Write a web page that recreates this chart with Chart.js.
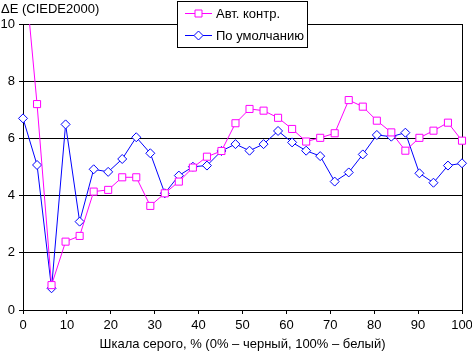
<!DOCTYPE html>
<html>
<head>
<meta charset="utf-8">
<script src="https://cdn.jsdelivr.net/npm/chart.js@4/dist/chart.umd.min.js"></script>
<style>
html,body{margin:0;padding:0;background:#fff;}
#wrap{width:472px;height:353px;position:relative;}
</style>
</head>
<body>
<div id="wrap"><canvas id="c" width="472" height="353"></canvas></div>
<script>
const xValues = [0, 3.2, 6.5, 9.7, 12.9, 16.1, 19.4, 22.6, 25.8, 29.0, 32.3, 35.5, 38.7, 41.9, 45.2, 48.4, 51.6, 54.8, 58.1, 61.3, 64.5, 67.7, 71.0, 74.2, 77.4, 80.6, 83.9, 87.1, 90.3, 93.5, 96.8, 100];
const autoContr = [12.5, 7.20, 0.87, 2.39, 2.59, 4.14, 4.20, 4.64, 4.64, 3.64, 4.08, 4.49, 4.98, 5.36, 5.56, 6.53, 7.03, 6.97, 6.72, 6.33, 5.89, 6.02, 6.18, 7.34, 7.11, 6.62, 6.21, 5.57, 6.02, 6.27, 6.55, 5.92];
const byDefault = [6.70, 5.07, 0.76, 6.49, 3.09, 4.92, 4.83, 5.28, 6.04, 5.48, 4.08, 4.70, 5.01, 5.05, 5.56, 5.80, 5.57, 5.80, 6.26, 5.86, 5.57, 5.38, 4.49, 4.81, 5.44, 6.12, 6.06, 6.20, 4.78, 4.45, 5.05, 5.13];
const seriesNames = ["Авт. контр.", "По умолчанию"];
const yTitle = "ΔE (CIEDE2000)";
const xTitle = "Шкала серого, % (0% – черный, 100% – белый)";

const FONT = "'Liberation Sans', Arial, sans-serif";
const toPts = arr => arr.map((v, i) => ({x: xValues[i], y: v}));

const extras = {
  id: 'extras',
  beforeDatasetsDraw(chart) {
    const {ctx, chartArea: a} = chart;
    ctx.save();
    ctx.strokeStyle = '#000';
    ctx.lineWidth = 1;
    ctx.beginPath();
    ctx.moveTo(Math.round(a.right) + 0.5, a.top);
    ctx.lineTo(Math.round(a.right) + 0.5, a.bottom);
    ctx.stroke();
    ctx.restore();
  },
  afterDraw(chart) {
    const ctx = chart.ctx;
    ctx.save();
    ctx.fillStyle = '#000';
    ctx.font = '13px ' + FONT;
    ctx.textBaseline = 'middle';
    ctx.textAlign = 'left';
    ctx.fillText(yTitle, 1, 9);
    const bx = 177.5, by = 1.5, bw = 130, bh = 46;
    ctx.fillStyle = '#fff';
    ctx.fillRect(bx, by, bw, bh);
    ctx.strokeStyle = '#000';
    ctx.lineWidth = 1;
    ctx.strokeRect(bx, by, bw, bh);
    const rows = [13.5, 35.5];
    chart.data.datasets.forEach((ds, i) => {
      const y = rows[i];
      ctx.strokeStyle = ds.borderColor;
      ctx.beginPath();
      ctx.moveTo(185, y);
      ctx.lineTo(212, y);
      ctx.stroke();
      ctx.fillStyle = '#fff';
      ctx.beginPath();
      if (ds.pointStyle === 'rect') {
        ctx.rect(195, y - 3.5, 7, 7);
      } else {
        ctx.moveTo(198.5, y - 4.5);
        ctx.lineTo(203, y);
        ctx.lineTo(198.5, y + 4.5);
        ctx.lineTo(194, y);
        ctx.closePath();
      }
      ctx.fill();
      ctx.stroke();
      ctx.fillStyle = '#000';
      ctx.font = '13px ' + FONT;
      ctx.textBaseline = 'middle';
      ctx.fillText(ds.label, 216, y + 0.5);
    });
    ctx.restore();
  }
};

new Chart(document.getElementById('c'), {
  type: 'line',
  data: {
    datasets: [
      {
        label: seriesNames[0],
        data: toPts(autoContr),
        borderColor: '#FF00FF',
        backgroundColor: '#FFFFFF',
        borderWidth: 1,
        pointStyle: 'rect',
        pointRadius: 5,
        pointBorderWidth: 1,
        pointBackgroundColor: '#FFFFFF',
        pointBorderColor: '#FF00FF',
        tension: 0,
        clip: {left: 6, right: 8, top: 0, bottom: 6}
      },
      {
        label: seriesNames[1],
        data: toPts(byDefault),
        borderColor: '#0000FF',
        backgroundColor: '#FFFFFF',
        borderWidth: 1,
        pointStyle: 'rectRot',
        pointRadius: 4.5,
        pointBorderWidth: 1,
        pointBackgroundColor: '#FFFFFF',
        pointBorderColor: '#0000FF',
        tension: 0,
        clip: {left: 6, right: 8, top: 0, bottom: 6}
      }
    ]
  },
  options: {
    responsive: false,
    animation: false,
    devicePixelRatio: 1,
    layout: {padding: {top: 24, right: 10, left: 0, bottom: 0}},
    plugins: {legend: {display: false}, title: {display: false}, tooltip: {enabled: false}},
    scales: {
      x: {
        type: 'linear', min: 0, max: 100,
        ticks: {stepSize: 10, color: '#000', font: {size: 13, family: FONT}, padding: 4, maxRotation: 0},
        grid: {drawOnChartArea: false, drawTicks: true, tickLength: 4, color: '#000'},
        border: {display: true, color: '#000'},
        title: {display: true, text: xTitle, color: '#000', font: {size: 13, family: FONT}, padding: {top: 2, bottom: 1}},
        afterFit(s) { s.height = 43; s.paddingLeft = 0; s.paddingRight = 0; }
      },
      y: {
        min: 0, max: 10,
        ticks: {stepSize: 2, color: '#000', font: {size: 13, family: FONT}, padding: 4},
        grid: {color: '#000', drawTicks: true, tickLength: 4},
        border: {display: true, color: '#000'},
        afterFit(s) { s.width = 23; s.paddingTop = 0; s.paddingBottom = 0; }
      }
    }
  },
  plugins: [extras]
});
</script>
</body>
</html>
